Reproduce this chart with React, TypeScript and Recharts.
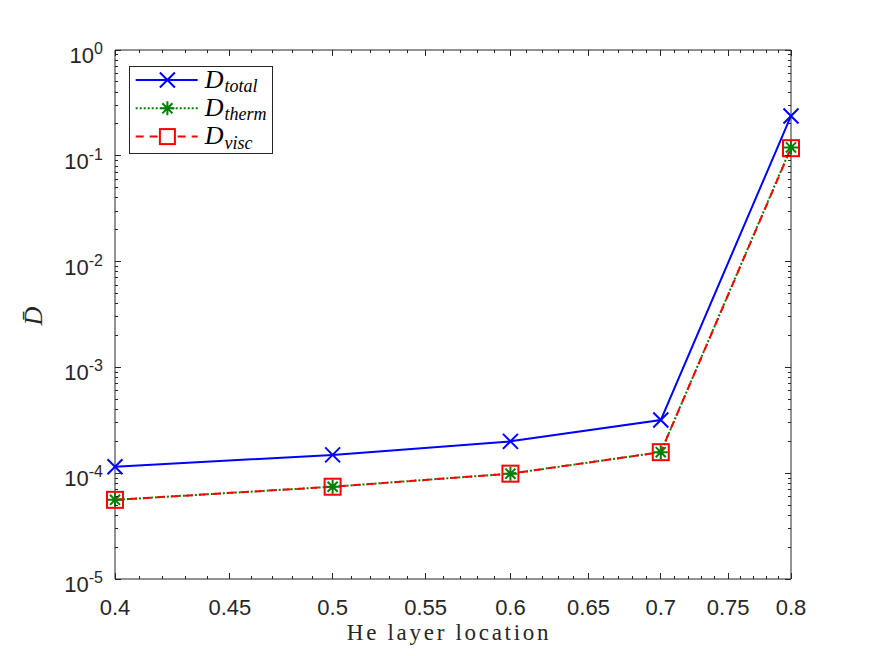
import React from 'react';
import { LineChart, Line, XAxis, YAxis, Legend } from 'recharts';

// ---- data ----
const heLocation = [0.4, 0.5, 0.6, 0.7, 0.8];
const dTotal = [1.15e-4, 1.49e-4, 2.0e-4, 3.18e-4, 0.238];
const dTherm = [5.6e-5, 7.45e-5, 9.9e-5, 1.58e-4, 0.12];
const dVisc = [5.6e-5, 7.45e-5, 9.9e-5, 1.58e-4, 0.118];

// ---- ticks ----
const xMajorTicks = [0.4, 0.45, 0.5, 0.55, 0.6, 0.65, 0.7, 0.75, 0.8];
const xTickLabels = ['0.4', '0.45', '0.5', '0.55', '0.6', '0.65', '0.7', '0.75', '0.8'];
const xMinorTicks = [
  0.41, 0.42, 0.43, 0.44, 0.46, 0.47, 0.48, 0.49,
  0.51, 0.52, 0.53, 0.54, 0.56, 0.57, 0.58, 0.59,
  0.61, 0.62, 0.63, 0.64, 0.66, 0.67, 0.68, 0.69,
  0.71, 0.72, 0.73, 0.74, 0.76, 0.77, 0.78, 0.79,
];
const yMajorTicks = [1e-5, 1e-4, 1e-3, 1e-2, 1e-1, 1];
const yTickExponents = ['-5', '-4', '-3', '-2', '-1', '0'];
const yMinorMultipliers = [2, 3, 4, 5, 6, 7, 8, 9];

const legendNames = ['total', 'therm', 'visc'];

const data = heLocation.map((x, i) => ({
  x,
  total: dTotal[i],
  therm: dTherm[i],
  visc: dVisc[i],
}));

const xAllTicks = [...xMajorTicks, ...xMinorTicks].sort((a, b) => a - b);
const yMinorTicks: number[] = [];
yMajorTicks.slice(0, -1).forEach((d) => yMinorMultipliers.forEach((m) => yMinorTicks.push(d * m)));
const yAllTicks = [...yMajorTicks, ...yMinorTicks].sort((a, b) => a - b);

const AXIS = '#262626';
const SANS = 'Liberation Sans, Arial, Helvetica, sans-serif';
const SERIF = 'Liberation Serif, Times New Roman, serif';
const BLUE = '#0000FF';
const GREEN = '#008000';
const RED = '#FF0000';
const MAJ = 6;
const MIN = 3;

const xMajorIndex = (v: number) => xMajorTicks.findIndex((t) => Math.abs(t - v) < 1e-9);
const yMajorIndex = (v: number) => yMajorTicks.findIndex((t) => Math.abs(t - v) / t < 1e-6);

// ---- markers ----
const xMarkPath = (cx: number, cy: number, r: number) =>
  `M${cx - r},${cy - r}L${cx + r},${cy + r}M${cx - r},${cy + r}L${cx + r},${cy - r}`;
const starPath = (cx: number, cy: number, r: number) => {
  const d = r * 0.72;
  return `M${cx - r},${cy}L${cx + r},${cy}M${cx},${cy - r}L${cx},${cy + r}M${cx - d},${cy - d}L${cx + d},${cy + d}M${cx - d},${cy + d}L${cx + d},${cy - d}`;
};

const XDot = (props: any) => {
  const { cx, cy } = props;
  if (cx == null || cy == null) return <g key={`xd-${props.index}`} />;
  return <path key={`xd-${props.index}`} d={xMarkPath(cx, cy, 7.5)} stroke={BLUE} strokeWidth={2} fill="none" />;
};
const StarDot = (props: any) => {
  const { cx, cy } = props;
  if (cx == null || cy == null) return <g key={`sd-${props.index}`} />;
  return <path key={`sd-${props.index}`} d={starPath(cx, cy, 7)} stroke={GREEN} strokeWidth={2} fill="none" />;
};
const SquareDot = (props: any) => {
  const { cx, cy } = props;
  if (cx == null || cy == null) return <g key={`qd-${props.index}`} />;
  return <rect key={`qd-${props.index}`} x={cx - 8} y={cy - 8} width={16} height={16} stroke={RED} strokeWidth={2} fill="none" />;
};

// ---- ticks ----
const BottomTick = (props: any) => {
  const { x, y, payload } = props;
  const idx = xMajorIndex(payload.value);
  const len = idx >= 0 ? MAJ : MIN;
  return (
    <g>
      <line x1={x} y1={y} x2={x} y2={y - len} stroke={AXIS} strokeWidth={1} shapeRendering="crispEdges" />
      {idx >= 0 && (
        <text x={x} y={y + 36} textAnchor="middle" fontFamily={SANS} fontSize={22} fill={AXIS}>
          {xTickLabels[idx]}
        </text>
      )}
    </g>
  );
};
const TopTick = (props: any) => {
  const { x, y, payload } = props;
  const len = xMajorIndex(payload.value) >= 0 ? MAJ : MIN;
  return <line x1={x} y1={y} x2={x} y2={y + len} stroke={AXIS} strokeWidth={1} shapeRendering="crispEdges" />;
};
const LeftTick = (props: any) => {
  const { x, y, payload } = props;
  const idx = yMajorIndex(payload.value);
  const len = idx >= 0 ? MAJ : MIN;
  return (
    <g>
      <line x1={x} y1={y} x2={x + len} y2={y} stroke={AXIS} strokeWidth={1} shapeRendering="crispEdges" />
      {idx >= 0 && (
        <text x={x - 12} y={y + 13} textAnchor="end" fontFamily={SANS} fontSize={22} fill={AXIS}>
          10
          <tspan dy={-9} fontSize={16}>
            {yTickExponents[idx]}
          </tspan>
        </text>
      )}
    </g>
  );
};
const RightTick = (props: any) => {
  const { x, y, payload } = props;
  const len = yMajorIndex(payload.value) >= 0 ? MAJ : MIN;
  return <line x1={x} y1={y} x2={x - len} y2={y} stroke={AXIS} strokeWidth={1} shapeRendering="crispEdges" />;
};

// ---- legend ----
const LegendBox = () => {
  const rows = [
    { color: BLUE, dash: undefined as string | undefined, mark: 'x' },
    { color: GREEN, dash: '2 2', mark: 'star' },
    { color: RED, dash: '8 6', mark: 'square' },
  ];
  const baselines = [21.5, 49.8, 78.1];
  return (
    <svg width={144} height={88} style={{ display: 'block' }}>
      <rect x={0.5} y={0.5} width={143} height={87} fill="#fff" stroke={AXIS} strokeWidth={1} />
      {rows.map((r, i) => {
        const ly = baselines[i] - 7.5;
        const mx = 38.4;
        return (
          <g key={i}>
            <line x1={6.7} y1={ly} x2={68.7} y2={ly} stroke={r.color} strokeWidth={2} strokeDasharray={r.dash} />
            {r.mark === 'x' && <path d={xMarkPath(mx, ly, 7.5)} stroke={r.color} strokeWidth={2} fill="none" />}
            {r.mark === 'star' && <path d={starPath(mx, ly, 7)} stroke={r.color} strokeWidth={2} fill="none" />}
            {r.mark === 'square' && (
              <rect x={mx - 7.5} y={ly - 7.5} width={15} height={15} stroke={r.color} strokeWidth={2} fill="#fff" />
            )}
            <text x={75.7} y={baselines[i]} fontFamily={SERIF} fontStyle="italic" fontSize={26} fill="#000">
              D
              <tspan fontSize={18} dy={4.5} dx={1}>
                {legendNames[i]}
              </tspan>
            </text>
          </g>
        );
      })}
    </svg>
  );
};

const XLabel = (props: any) => {
  const vb = props.viewBox || { x: 107, y: 571, width: 676, height: 77 };
  return (
    <text
      x={vb.x + vb.width / 2 - 4}
      y={vb.y + 61}
      textAnchor="middle"
      fontFamily={SERIF}
      fontSize={23}
      letterSpacing={2.7}
      fill={AXIS}
    >
      He layer location
    </text>
  );
};
const YLabel = (props: any) => {
  const vb = props.viewBox || { x: 0, y: 42, width: 107, height: 529 };
  const cx = vb.x + 33.7;
  const cy = vb.y + vb.height / 2 + 1.5;
  return (
    <text x={cx} y={cy} transform={`rotate(-90, ${cx}, ${cy})`} textAnchor="middle" fontFamily={SERIF} fontStyle="italic" fontSize={26} fill={AXIS}>
      D̄
    </text>
  );
};

export default function App() {
  return (
    <LineChart width={867} height={648} data={data} margin={{ top: 41, right: 0, bottom: 0, left: 0 }}>
      <XAxis
        xAxisId="bottom"
        dataKey="x"
        type="number"
        scale="log"
        domain={[0.4, 0.8]}
        ticks={xAllTicks}
        interval={0}
        height={77}
        tickSize={0}
        tickMargin={0}
        tickLine={false}
        axisLine={{ stroke: AXIS, strokeWidth: 1 }}
        tick={<BottomTick />}
        label={XLabel}
      />
      <XAxis
        xAxisId="top"
        dataKey="x"
        orientation="top"
        type="number"
        scale="log"
        domain={[0.4, 0.8]}
        ticks={xAllTicks}
        interval={0}
        height={1}
        tickSize={0}
        tickMargin={0}
        tickLine={false}
        axisLine={{ stroke: AXIS, strokeWidth: 1 }}
        tick={<TopTick />}
      />
      <YAxis
        yAxisId="left"
        scale="log"
        type="number"
        domain={[1e-5, 1]}
        ticks={yAllTicks}
        interval={0}
        width={107}
        tickSize={0}
        tickMargin={0}
        tickLine={false}
        axisLine={{ stroke: AXIS, strokeWidth: 1 }}
        tick={<LeftTick />}
        label={YLabel}
      />
      <YAxis
        yAxisId="right"
        dataKey="total"
        orientation="right"
        scale="log"
        type="number"
        domain={[1e-5, 1]}
        ticks={yAllTicks}
        interval={0}
        width={84}
        tickSize={0}
        tickMargin={0}
        tickLine={false}
        axisLine={{ stroke: AXIS, strokeWidth: 1 }}
        tick={<RightTick />}
      />
      <Line
        xAxisId="bottom"
        yAxisId="left"
        type="linear"
        dataKey="total"
        stroke={BLUE}
        strokeWidth={2}
        dot={XDot}
        activeDot={false}
        isAnimationActive={false}
      />
      <Line
        xAxisId="bottom"
        yAxisId="left"
        type="linear"
        dataKey="therm"
        stroke={GREEN}
        strokeWidth={2}
        strokeDasharray="2 2"
        dot={StarDot}
        activeDot={false}
        isAnimationActive={false}
      />
      <Line
        xAxisId="bottom"
        yAxisId="left"
        type="linear"
        dataKey="visc"
        stroke={RED}
        strokeWidth={2}
        strokeDasharray="8 6"
        dot={SquareDot}
        activeDot={false}
        isAnimationActive={false}
      />
      <Legend
        layout="vertical"
        align="center"
        verticalAlign="middle"
        wrapperStyle={{ position: 'absolute', left: 121.3, top: 57.7, width: 144, height: 88 }}
        content={() => <LegendBox />}
      />
    </LineChart>
  );
}
